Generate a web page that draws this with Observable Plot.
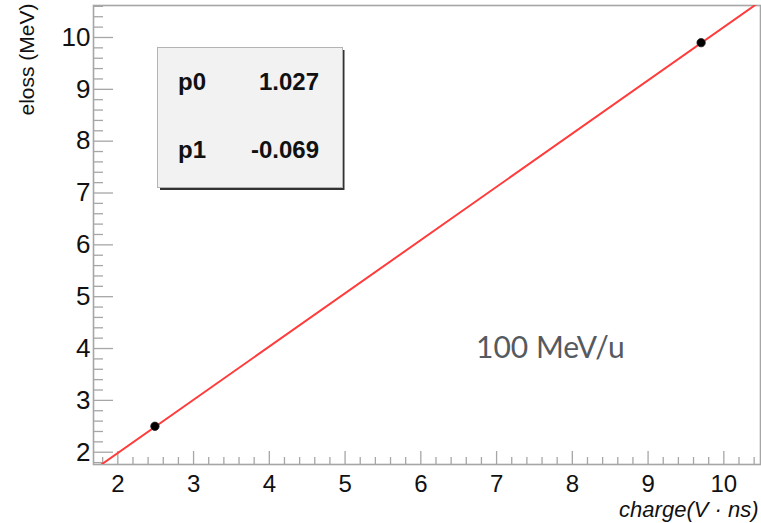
<!DOCTYPE html>
<html><head><meta charset="utf-8">
<script src="https://cdn.jsdelivr.net/npm/d3@7"></script>
<script src="https://cdn.jsdelivr.net/npm/@observablehq/plot@0.6"></script>
<style>
body{margin:0;background:#fff}
#wrap{position:relative;width:761px;height:523px}
#wrap svg{display:block}
#overlay{position:absolute;left:0;top:0;pointer-events:none}
</style>
</head><body><div id="wrap"></div>
<script>
// ---- data ----
const charge = [2.49, 9.70];          // x values of measured points (V·ns)
const eloss = [2.50, 9.90];           // y values of measured points (MeV)
const fitNames = ["p0", "p1"];
const fitValues = [1.027, -0.069];    // slope, intercept
const fitLabels = ["1.027", "-0.069"];
const xTicks = [2, 3, 4, 5, 6, 7, 8, 9, 10];
const yTicks = [2, 3, 4, 5, 6, 7, 8, 9, 10];
const xDomain = [1.679, 10.484];
const yDomain = [1.763, 10.617];
const xTitle = "charge(V · ns)";
const yTitle = "eloss (MeV)";
const annotation = "100 MeV/u";

// ---- layout ----
const W = 761, H = 523, mL = 93, mT = 5, mR = 1, mB = 59;
const fw = W - mL - mR, fh = H - mT - mB;
const axisGrey = "#a6a6a6";
const xMinor = d3.range(1.8, 10.5, 0.2).filter(v => Math.abs(v - Math.round(v)) > 1e-6);
const yMinor = d3.range(1.8, 10.61, 0.2).filter(v => Math.abs(v - Math.round(v)) > 1e-6);
const pts = charge.map((c, i) => ({x: c, y: eloss[i]}));
const [p0, p1] = fitValues;

const chart = Plot.plot({
  width: W, height: H,
  marginLeft: mL, marginTop: mT, marginRight: mR, marginBottom: mB,
  style: {fontFamily: "'Liberation Sans', Arial, Helvetica, sans-serif", background: "transparent", color: "#111"},
  x: {domain: xDomain},
  y: {domain: yDomain},
  marks: [
    Plot.ruleX(xMinor, {stroke: axisGrey, strokeWidth: 1.3, insetTop: fh - 7}),
    Plot.ruleX(xTicks, {stroke: axisGrey, strokeWidth: 1.3, insetTop: fh - 13}),
    Plot.ruleY(yMinor, {stroke: axisGrey, strokeWidth: 1.3, insetRight: fw - 10}),
    Plot.ruleY(yTicks, {stroke: axisGrey, strokeWidth: 1.3, insetRight: fw - 20}),
    Plot.frame({stroke: axisGrey, strokeWidth: 1.6}),
    Plot.axisX(xTicks, {tickSize: 0, tickPadding: 10, fontSize: 24, label: null, tickFormat: d => String(d)}),
    Plot.axisY(yTicks, {tickSize: 0, tickPadding: 3, fontSize: 26, label: null, tickFormat: d => String(d)}),
    Plot.line(xDomain, {x: d => d, y: d => p0 * d + p1, stroke: "#ff3c3c", strokeWidth: 2, clip: true}),
    Plot.dot(pts, {x: "x", y: "y", r: 4.2, fill: "#000", stroke: "#222", strokeWidth: 0.8}),
    Plot.text([xTitle], {frameAnchor: "bottom-right", textAnchor: "end", lineAnchor: "top", dx: -2, dy: 36.5, fontSize: 22, fontStyle: "italic", fill: "#111"}),
    Plot.text([yTitle], {frameAnchor: "top-left", textAnchor: "end", lineAnchor: "middle", rotate: -90, dx: -66, dy: -2, fontSize: 21, fill: "#111"})
  ]
});
const wrap = document.getElementById("wrap");
wrap.appendChild(chart);

// ---- stats box & annotation overlay ----
const ov = d3.select(wrap).append("svg").attr("id", "overlay").attr("width", W).attr("height", H);
ov.append("line").attr("x1", 160).attr("y1", 189).attr("x2", 344).attr("y2", 189).attr("stroke", "#333").attr("stroke-width", 2);
ov.append("line").attr("x1", 343.5).attr("y1", 50).attr("x2", 343.5).attr("y2", 190).attr("stroke", "#333").attr("stroke-width", 2);
ov.append("rect").attr("x", 157.5).attr("y", 47.5).attr("width", 185).attr("height", 140)
  .attr("fill", "#f2f2f2").attr("stroke", "#b3b3b3").attr("stroke-width", 1);
const baselines = [90, 158];
fitNames.forEach((n, i) => {
  ov.append("text").attr("x", 178).attr("y", baselines[i]).text(n)
    .attr("font-family", "'Liberation Sans', Arial, sans-serif").attr("font-weight", "bold").attr("font-size", 24).attr("fill", "#111");
  ov.append("text").attr("x", 319).attr("y", baselines[i]).attr("text-anchor", "end").text(fitLabels[i])
    .attr("font-family", "'Liberation Sans', Arial, sans-serif").attr("font-weight", "bold").attr("font-size", 24).attr("fill", "#111");
});
ov.append("text").attr("x", 476).attr("y", 358).text(annotation)
  .attr("font-family", "Lato, 'Open Sans', sans-serif").attr("font-size", 30).attr("fill", "#555a61");
</script>
</body></html>
